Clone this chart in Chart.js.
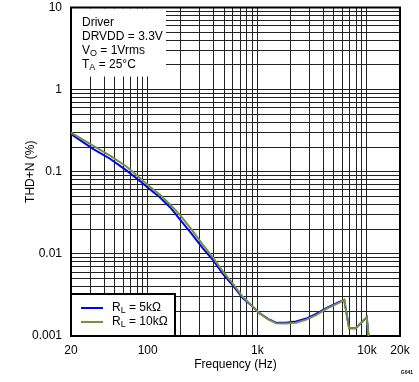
<!DOCTYPE html>
<html>
<head>
<meta charset="utf-8">
<script src="https://cdn.jsdelivr.net/npm/chart.js@4/dist/chart.umd.min.js"></script>
<style>
  html, body { margin: 0; padding: 0; background: #fff; }
  #wrap { width: 419px; height: 382px; position: relative; }
</style>
</head>
<body>
<div id="wrap"><canvas id="c" width="419" height="382"></canvas></div>
<script>
// ---- data ----
const freqHz = [20, 32, 45, 64, 80, 104, 129, 160, 196, 250, 319, 400, 485, 600, 736, 900, 1045, 1250, 1483, 1800, 2254, 2800, 3430, 4300, 5590, 6200, 6870, 7900, 9950, 10500];
const thdRL5k = [0.288, 0.189, 0.145, 0.104, 0.082, 0.0615, 0.049, 0.037, 0.0265, 0.0178, 0.0117, 0.0082, 0.0057, 0.0041, 0.0029, 0.0023, 0.0019, 0.00162, 0.00145, 0.00145, 0.00150, 0.00163, 0.00186, 0.0022, 0.0026, 0.00275, 0.00124, 0.00124, 0.00169, 0.0008];
const thdRL10k = [0.300, 0.207, 0.158, 0.116, 0.090, 0.066, 0.053, 0.040, 0.030, 0.020, 0.0129, 0.0088, 0.0061, 0.0043, 0.0030, 0.0023, 0.0019, 0.00160, 0.00143, 0.00142, 0.00145, 0.00158, 0.00180, 0.00215, 0.00255, 0.00275, 0.00124, 0.00124, 0.00169, 0.0008];

const xTickValues = [20, 30, 40, 50, 60, 70, 80, 90, 100, 200, 300, 400, 500, 600, 700, 800, 900, 1000, 2000, 3000, 4000, 5000, 6000, 7000, 8000, 9000, 10000, 20000];
const xLabelValues = [20, 100, 1000, 10000, 20000];
const xLabelTexts = ['20', '100', '1k', '10k', '20k'];

const yTickValues = [0.001, 0.002, 0.003, 0.004, 0.005, 0.006, 0.007, 0.008, 0.009,
                     0.01, 0.02, 0.03, 0.04, 0.05, 0.06, 0.07, 0.08, 0.09,
                     0.1, 0.2, 0.3, 0.4, 0.5, 0.6, 0.7, 0.8, 0.9,
                     1, 2, 3, 4, 5, 6, 7, 8, 9, 10];
const yLabelValues = [0.001, 0.01, 0.1, 1, 10];
const yLabelTexts = ['0.001', '0.01', '0.1', '1', '10'];

const seriesNames = ['5kΩ', '10kΩ'];
const seriesColors = ['#0000ff', '#76923c'];

// ---- helpers ----
function labelFor(v, vals, texts) {
  for (let i = 0; i < vals.length; i++) {
    if (Math.abs(v - vals[i]) / vals[i] < 1e-6) return texts[i];
  }
  return '';
}
const FONT = 'Arial, "Liberation Sans", sans-serif';

function drawSubText(ctx, x, y, parts) {
  let cx = x;
  for (const [t, sub] of parts) {
    if (sub) {
      ctx.font = '9px ' + FONT;
      ctx.fillText(t, cx, y + 3);
    } else {
      ctx.font = '12px ' + FONT;
      ctx.fillText(t, cx, y);
    }
    cx += ctx.measureText(t).width;
  }
}

const overlay = {
  id: 'overlay',
  beforeDatasetsDraw(chart) {
    const {ctx, chartArea: a} = chart;
    ctx.save();
    ctx.fillStyle = '#fff';
    ctx.fillRect(a.left + 1, a.top + 1, 94, 68);
    ctx.fillStyle = '#000';
    ctx.textBaseline = 'middle';
    ctx.textAlign = 'left';
    const tx = a.left + 11;
    drawSubText(ctx, tx, a.top + 15, [['Driver', false]]);
    drawSubText(ctx, tx, a.top + 29, [['DRVDD = 3.3V', false]]);
    drawSubText(ctx, tx, a.top + 43, [['V', false], ['O', true], [' = 1Vrms', false]]);
    drawSubText(ctx, tx, a.top + 57, [['T', false], ['A', true], [' = 25°C', false]]);
    ctx.strokeStyle = '#000';
    ctx.lineWidth = 2;
    ctx.strokeRect(a.left, a.top, a.right - a.left, a.bottom - a.top);
    ctx.restore();
  },
  afterDatasetsDraw(chart) {
    const {ctx, chartArea: a} = chart;
    ctx.save();
    const lx = a.left, ly = a.bottom - 42, lw = 104, lh = 42;
    ctx.fillStyle = '#fff';
    ctx.fillRect(lx, ly, lw, lh);
    ctx.strokeStyle = '#000';
    ctx.lineWidth = 2;
    ctx.strokeRect(lx, ly, lw, lh);
    ctx.textBaseline = 'middle';
    ctx.textAlign = 'left';
    for (let i = 0; i < seriesNames.length; i++) {
      const yy = ly + 14 + i * 14;
      ctx.strokeStyle = seriesColors[i];
      ctx.lineWidth = 2;
      ctx.beginPath();
      ctx.moveTo(lx + 10, yy);
      ctx.lineTo(lx + 32, yy);
      ctx.stroke();
      ctx.fillStyle = '#000';
      drawSubText(ctx, lx + 41, yy, [['R', false], ['L', true], [' = ' + seriesNames[i], false]]);
    }
    ctx.font = 'bold 5px ' + FONT;
    ctx.textAlign = 'right';
    ctx.fillText('G041', 413, 373);
    ctx.restore();
  }
};

new Chart(document.getElementById('c'), {
  type: 'line',
  data: {
    labels: freqHz,
    datasets: [
      { label: 'RL = ' + seriesNames[0], data: freqHz.map((f, i) => ({x: f, y: thdRL5k[i]})),
        borderColor: seriesColors[0], borderWidth: 2, pointRadius: 0, tension: 0, order: 1 },
      { label: 'RL = ' + seriesNames[1], data: freqHz.map((f, i) => ({x: f, y: thdRL10k[i]})),
        borderColor: seriesColors[1], borderWidth: 2, pointRadius: 0, tension: 0, order: 0 }
    ]
  },
  options: {
    responsive: false,
    animation: false,
    devicePixelRatio: 1,
    layout: { padding: { top: 7.5, right: 19, bottom: 0, left: 0 } },
    plugins: { legend: { display: false }, tooltip: { enabled: false } },
    scales: {
      x: {
        type: 'logarithmic', min: 20, max: 20000,
        afterBuildTicks: s => { s.ticks = xTickValues.map(v => ({value: v})); },
        afterFit: s => { s.height = 46; s.paddingLeft = 0; s.paddingRight = 0; },
        ticks: { autoSkip: false, maxRotation: 0, minRotation: 0, padding: 7, color: '#000',
                 font: { family: FONT, size: 12 },
                 callback: v => labelFor(v, xLabelValues, xLabelTexts) },
        grid: { color: '#222', lineWidth: 1, drawTicks: false },
        border: { color: '#000', width: 2 },
        title: { display: true, text: 'Frequency (Hz)', color: '#000',
                 font: { family: FONT, size: 12 }, padding: { top: 0, bottom: 10 } }
      },
      y: {
        type: 'logarithmic', min: 0.001, max: 10,
        afterBuildTicks: s => { s.ticks = yTickValues.map(v => ({value: v})); },
        afterFit: s => { s.width = 71; s.paddingTop = 0; s.paddingBottom = 0; },
        ticks: { autoSkip: false, padding: 9, color: '#000',
                 font: { family: FONT, size: 12 },
                 callback: v => labelFor(v, yLabelValues, yLabelTexts) },
        grid: { color: '#222', lineWidth: 1, drawTicks: false },
        border: { color: '#000', width: 2 },
        title: { display: true, text: 'THD+N (%)', color: '#000',
                 font: { family: FONT, size: 12 }, padding: { top: 23, bottom: 0 } }
      }
    }
  },
  plugins: [overlay]
});
</script>
</body>
</html>
